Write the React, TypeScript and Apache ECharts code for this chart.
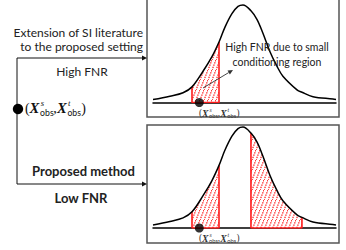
import React, { useEffect, useRef } from "react";
import * as echarts from "echarts";

// Curve (x in standardized units, y relative density)
const curveX = [-3.8, -3.08, -2.52, -2.14, -1.67, -1.29, -0.99, -0.74, -0.44, -0.18, 0.03, 0.37, 0.63, 0.88, 1.18, 1.48, 1.73, 2.33, 2.54, 3.01, 3.86, 3.99];
const curveY = [0.03, 0.065, 0.1, 0.16, 0.32, 0.47, 0.62, 0.77, 0.91, 0.985, 1.0, 0.94, 0.85, 0.71, 0.52, 0.37, 0.27, 0.13, 0.105, 0.06, 0.035, 0.03];
const topRegions = [[-2.14, -0.99]];
const bottomRegions = [[-2.14, -0.99], [0.37, 2.54]];
const observedX = -1.83;

const topCaption = ["Extension of SI literature", "to the proposed setting"];
const topResult = "High FNR";
const bottomCaption = "Proposed method";
const bottomResult = "Low FNR";
const annotation = ["High FNR due to small", "conditioning region"];

const SANS = "Lato, 'Open Sans', sans-serif";
const SERIF = "'Liberation Serif', 'DejaVu Serif', serif";

function txt(x: number, y: number, text: string, font: string, align = "left", fill = "#222") {
  return {
    type: "text",
    silent: true,
    z: 10,
    style: {
      x, y, text, font, fill,
      textAlign: align, align,
      textVerticalAlign: "middle", verticalAlign: "middle",
    },
  };
}

function mathLabel(x: number, y: number, fs: number, color: string) {
  const sm = fs * 0.62;
  const bi = `italic bold ${fs * 1.05}px ${SERIF}`;
  const si = `italic ${sm}px ${SERIF}`;
  const ob = `${sm}px ${SANS}`;
  return [
    txt(x, y, "(", `${fs}px ${SERIF}`, "left", color),
    txt(x + 0.33 * fs, y, "X", bi, "left", color),
    txt(x + 1.12 * fs, y - 0.36 * fs, "s", si, "left", color),
    txt(x + 1.08 * fs, y + 0.3 * fs, "obs", ob, "left", color),
    txt(x + 2.02 * fs, y + 0.05 * fs, ",", `${fs}px ${SERIF}`, "left", color),
    txt(x + 2.28 * fs, y, "X", bi, "left", color),
    txt(x + 3.07 * fs, y - 0.36 * fs, "t", si, "left", color),
    txt(x + 3.03 * fs, y + 0.3 * fs, "obs", ob, "left", color),
    txt(x + 4.02 * fs, y, ")", `${fs}px ${SERIF}`, "left", color),
  ];
}

function arrow(x1: number, y1: number, x2: number, y2: number, color: string, w: number, hl: number, hw: number) {
  const dx = x2 - x1, dy = y2 - y1;
  const len = Math.sqrt(dx * dx + dy * dy);
  const ux = dx / len, uy = dy / len;
  const bx = x2 - ux * hl, by = y2 - uy * hl;
  const px = -uy * hw, py = ux * hw;
  return [
    { type: "line", silent: true, z: 10, shape: { x1, y1, x2: bx, y2: by }, style: { stroke: color, lineWidth: w } },
    { type: "polygon", silent: true, z: 10, shape: { points: [[x2, y2], [bx + px, by + py], [bx - px, by - py]] }, style: { fill: color } },
  ];
}

const HATCH_SVG =
  "<svg xmlns='http://www.w3.org/2000/svg' width='4' height='10'>" +
  "<rect width='4' height='10' fill='#ffffff'/>" +
  "<line x1='-1' y1='12.5' x2='5' y2='-2.5' stroke='#ff0f0f' stroke-width='1.15' stroke-dasharray='1.4,1'/>" +
  "</svg>";

export default function App() {
  const ref = useRef<HTMLDivElement>(null);
  useEffect(() => {
    if (!ref.current) return;
    const chart = echarts.init(ref.current, undefined, { renderer: "svg" });
    const hatch = {
      image: "data:image/svg+xml;charset=utf-8," + encodeURIComponent(HATCH_SVG),
      repeat: "repeat",
      imageWidth: 4,
      imageHeight: 10,
    };
    const curve = curveX.map((x, i) => [x, curveY[i]]);
    const yAt = (x: number) => curveY[curveX.indexOf(x)];

    const panelSeries = (gi: number, regions: number[][]) => {
      const s: any[] = [];
      regions.forEach(([a, b]) => {
        s.push({
          type: "line", xAxisIndex: gi, yAxisIndex: gi, smooth: 0.35, symbol: "none", z: 2,
          data: curve.filter((p) => p[0] >= a && p[0] <= b),
          lineStyle: { width: 0, opacity: 0 },
          areaStyle: { color: hatch, opacity: 1 },
          silent: true,
        });
        s.push({
          type: "line", xAxisIndex: gi, yAxisIndex: gi, symbol: "none", z: 3,
          data: [[a, yAt(a)], [a, 0], [b, 0], [b, yAt(b)]],
          lineStyle: { color: "#ff1a1a", width: 1.6 },
          silent: true,
        });
      });
      s.push({
        type: "line", xAxisIndex: gi, yAxisIndex: gi, smooth: 0.35, symbol: "none", z: 4,
        data: curve, lineStyle: { color: "#000", width: 1.5 }, silent: true,
      });
      s.push({
        type: "scatter", xAxisIndex: gi, yAxisIndex: gi, z: 5, symbolSize: 9,
        data: [[observedX, 0]], itemStyle: { color: "#000" }, silent: true,
      });
      return s;
    };

    const axisX = (gi: number) => ({
      type: "value", gridIndex: gi, min: -3.8, max: 3.99,
      axisLine: { show: true, lineStyle: { color: "#000", width: 1.5 } },
      axisTick: { show: false }, axisLabel: { show: false }, splitLine: { show: false },
    });
    const axisY = (gi: number) => ({
      type: "value", gridIndex: gi, min: 0, max: 1.05, show: false,
      axisLine: { show: false }, splitLine: { show: false },
    });

    const graphic: any[] = [
      { type: "rect", silent: true, z: 1, shape: { x: 147, y: -3, width: 192, height: 120 }, style: { fill: "none", stroke: "#555", lineWidth: 1.5 } },
      { type: "rect", silent: true, z: 1, shape: { x: 147, y: 125, width: 192, height: 118 }, style: { fill: "none", stroke: "#555", lineWidth: 1.5 } },
      { type: "line", silent: true, z: 10, shape: { x1: 17, y1: 58, x2: 17, y2: 184 }, style: { stroke: "#111", lineWidth: 1 } },
      ...arrow(17, 58, 147, 58, "#111", 1, 5, 2.5),
      ...arrow(17, 184, 147, 184, "#111", 1, 5, 2.5),
      ...arrow(203, 88, 233, 70, "#333", 0.9, 5, 2.3),
      { type: "circle", silent: true, z: 11, shape: { cx: 18, cy: 109, r: 5.2 }, style: { fill: "#000" } },
      txt(143, 32, topCaption[0], `12px ${SANS}`, "right"),
      txt(143, 46, topCaption[1], `12px ${SANS}`, "right"),
      txt(82, 71, topResult, `12px ${SANS}`, "center"),
      txt(83.5, 171, bottomCaption, `bold 13px ${SANS}`, "center"),
      txt(81, 198, bottomResult, `bold 13px ${SANS}`, "center"),
      txt(277, 47, annotation[0], `10.5px ${SANS}`, "center"),
      txt(277, 62, annotation[1], `10.5px ${SANS}`, "center"),
      ...mathLabel(25, 108, 14, "#111"),
      ...mathLabel(199, 113, 9.3, "#333"),
      ...mathLabel(199, 238, 9.3, "#333"),
    ];

    chart.setOption({
      animation: false,
      backgroundColor: "#fff",
      grid: [
        { left: 153, width: 183, top: -2.5, height: 105 },
        { left: 153, width: 183, top: 122, height: 106 },
      ],
      xAxis: [axisX(0), axisX(1)],
      yAxis: [axisY(0), axisY(1)],
      series: [...panelSeries(0, topRegions), ...panelSeries(1, bottomRegions)],
      graphic,
    } as any);
    return () => chart.dispose();
  }, []);
  return <div ref={ref} style={{ width: 346, height: 250, position: "absolute", left: 0, top: 0 }} />;
}
